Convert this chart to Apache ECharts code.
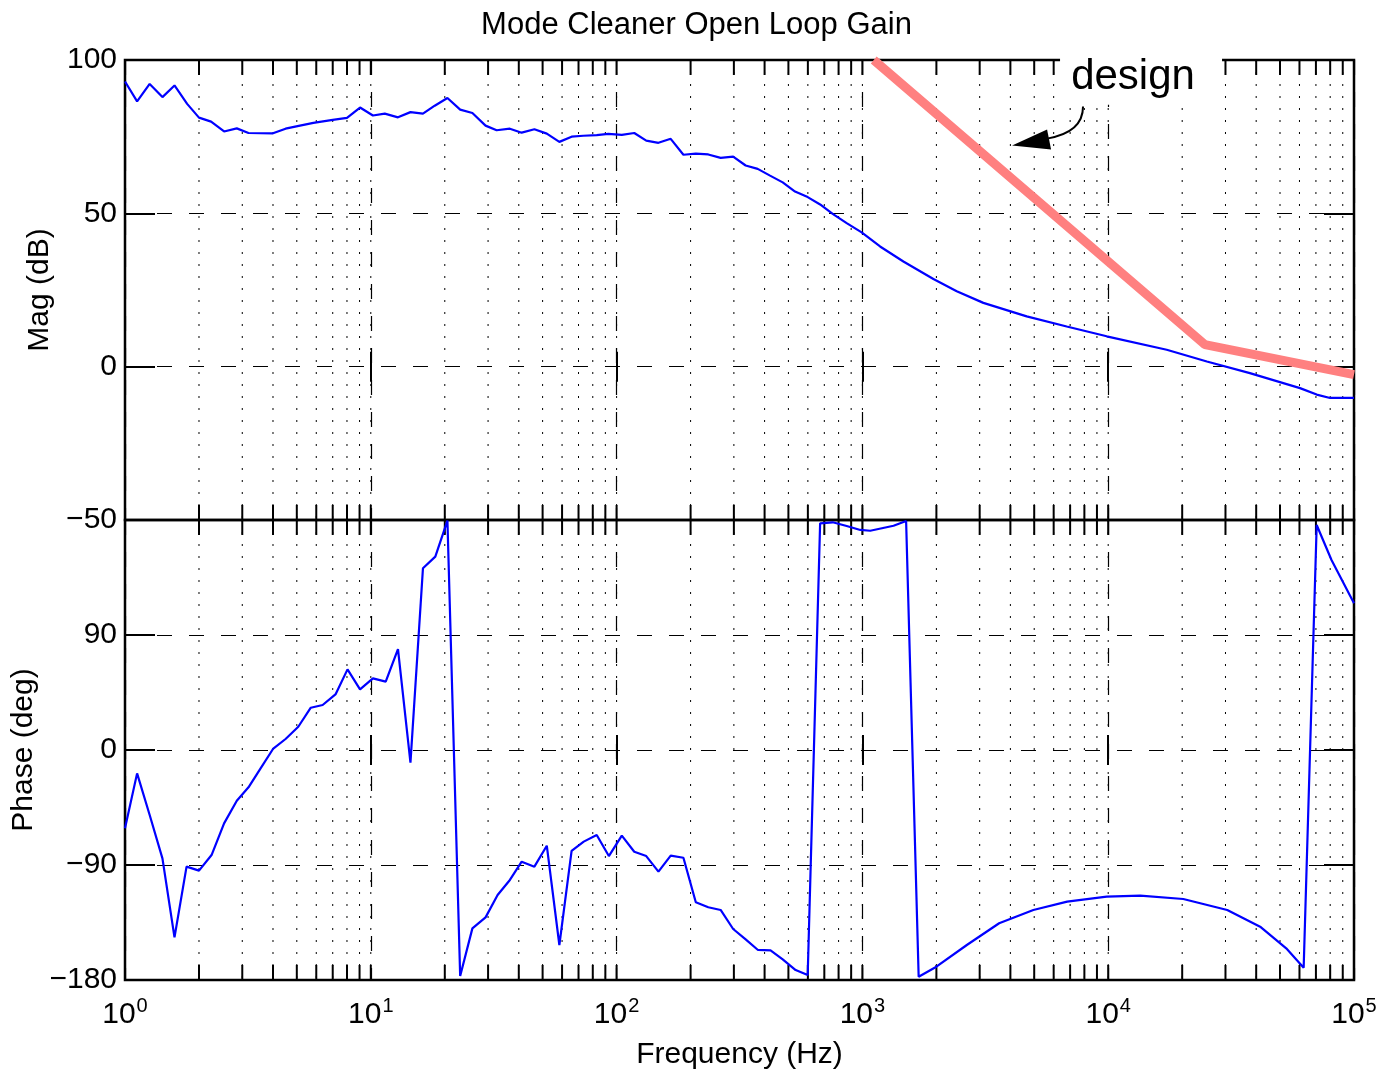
<!DOCTYPE html>
<html>
<head>
<meta charset="utf-8">
<script src="https://cdn.jsdelivr.net/npm/echarts@6/dist/echarts.min.js"></script>
<style>
  html, body { margin: 0; padding: 0; background: #fff; }
  #chart { width: 1393px; height: 1072px; }
</style>
</head>
<body>
<div id="chart"></div>
<script>
const magFreq = [1.0, 1.12, 1.26, 1.42, 1.59, 1.79, 2.0, 2.24, 2.53, 2.85, 3.18, 4.0, 4.5, 5.15, 5.84, 7.0, 8.0, 9.04,
  10.2, 11.4, 12.9, 14.5, 16.3, 18.2, 20.5, 23.1, 25.9, 29.3, 32.5, 36.8, 41.1, 46.3, 52, 58.5, 65.6, 73.2, 83, 92.5,
  105, 118, 132, 148, 166, 187, 210, 236, 265, 298, 335, 375, 421, 474, 532, 599, 673, 757, 863, 993,
  1180, 1468, 1945, 2420, 3105, 4660, 6780, 9860, 17300, 25200, 37700, 60300, 70500, 79900, 100000];
const magDb = [93.0, 86.5, 92.2, 87.9, 91.7, 85.7, 81.2, 79.9, 76.7, 77.7, 76.2, 76.1, 77.6, 78.6, 79.5, 80.5, 81.1, 84.5,
  81.9, 82.5, 81.3, 83.0, 82.5, 85.1, 87.6, 83.8, 82.7, 78.6, 77.1, 77.6, 76.3, 77.4, 76.0, 73.3, 75.0, 75.3, 75.5, 75.9,
  75.6, 76.2, 73.7, 73.0, 74.3, 69.1, 69.5, 69.2, 68.1, 68.5, 65.6, 64.5, 62.3, 60.1, 57.1, 55.3, 52.9, 49.8, 46.8, 43.8,
  39.2, 34.3, 28.6, 24.6, 20.8, 16.4, 13.1, 9.9, 5.5, 1.7, -2.1, -7.0, -9.1, -10.2, -10.2];

const phaseFreq = [1.0, 1.12, 1.26, 1.42, 1.59, 1.78, 2.0, 2.25, 2.53, 2.85, 3.18, 3.54, 4.0, 4.5, 5.07, 5.7, 6.37, 7.2,
  8.04, 9.04, 10.2, 11.5, 12.9, 14.5, 16.3, 18.3, 20.5, 23.1, 25.9, 29.3, 32.8, 36.8, 41.1, 46.3, 52, 58.5, 65.6, 73.5,
  83, 93, 105, 118, 132, 148, 166, 187, 210, 236, 265, 298, 335, 376, 423, 474, 535, 599, 673, 757, 863, 981, 1076,
  1339, 1506, 1694, 2000, 2660, 3600, 4960, 6810, 9860, 13500, 20200, 30500, 41500, 53000, 62400, 70500, 81000, 100000];
const phaseDeg = [-61.3, -18.3, -50.9, -84.8, -146.6, -91.3, -94.4, -82.2, -57.4, -39.7, -29.2, -15.1, 0.8, 8.6, 18.2,
  33.1, 35.2, 43.8, 63.1, 47.5, 56.1, 53.5, 79.0, -9.9, 142.2, 151.3, 179.5, -176.9, -139.6, -131, -113.5, -101.7, -87.4,
  -91.3, -74.9, -152.6, -79.0, -71.7, -66.5, -83.0, -67.0, -79.6, -83.0, -95.2, -82.7, -84.3, -119.2, -123.1, -125.2,
  -140.1, -148.2, -156.5, -156.8, -163.8, -172.2, -176.1, 177.4, 178.2, 175.3, 172.2, 171.6, 175.5, 179.2, -177.4,
  -169.6, -152.6, -135.6, -125.2, -118.7, -114.8, -114.0, -116.6, -125.2, -138.3, -155.2, -170.4, 176.1, 148.7, 114.8];

// design curve
const designFreq = [1112, 24750, 100000];
const designDb = [100, 7.2, -2.6];

const magTicks = [-50, 0, 50, 100];
const phaseTicks = [-180, -90, 0, 90, 180];
const freqMin = 1, freqMax = 100000;

// annotation anchors in data units
const noteText = 'design';
const notePos = [12620, 94.2];
const arrowTail = [7900, 84.8];
const arrowTip = [4064, 72.1];

const FONT = '"Liberation Sans", Arial, Helvetica, sans-serif';
const MINUS = '\u2212';
const FS = 30;

// minor grid positions 1..9 per decade
const minorFreq = [];
for (let d = 1; d < freqMax; d *= 10) {
  for (let m = 1; m <= 9; m++) {
    if (d * m > freqMin) minorFreq.push([d * m]);
  }
}

function zip(xs, ys) {
  return xs.map((x, i) => [x, ys[i]]);
}

function fmtNum(v) {
  return v < 0 ? MINUS + Math.abs(v) : String(v);
}

function minorGrid(yMin, yMax) {
  return function (params, api) {
    const f = api.value(0);
    const top = api.coord([f, yMax]);
    const bot = api.coord([f, yMin]);
    return {
      type: 'group',
      children: [
        { type: 'line', shape: { x1: top[0], y1: top[1], x2: bot[0], y2: bot[1] },
          style: { stroke: '#000', lineWidth: 1, lineDash: [2, 10] } },
        { type: 'line', shape: { x1: top[0], y1: top[1], x2: top[0], y2: top[1] + 15 },
          style: { stroke: '#000', lineWidth: 2 } },
        { type: 'line', shape: { x1: bot[0], y1: bot[1], x2: bot[0], y2: bot[1] - 15 },
          style: { stroke: '#000', lineWidth: 2 } }
      ]
    };
  };
}

const tickStyle = { color: '#000', width: 2 };
const dashStyle = { color: '#000', width: 1.2, type: [15, 17] };

function xAxisOf(grid, pos, main, withLabels) {
  return {
    type: 'log', logBase: 10, gridIndex: grid, position: pos, min: freqMin, max: freqMax,
    axisLine: { show: false },
    axisTick: { show: true, inside: true, length: 15, lineStyle: tickStyle },
    splitLine: { show: main, lineStyle: dashStyle },
    minorTick: { show: false },
    axisLabel: withLabels ? {
      show: true, margin: 16, color: '#000', fontFamily: FONT, fontSize: FS,
      showMinLabel: true, showMaxLabel: true,
      formatter: v => '10{s|' + Math.round(Math.log10(v)) + '}',
      rich: { s: { fontSize: 20, fontFamily: FONT, color: '#000', verticalAlign: 'bottom', padding: [0, 0, 17, 1] } }
    } : { show: false },
    name: withLabels ? 'Frequency (Hz)' : '',
    nameLocation: 'middle', nameGap: 60,
    nameTextStyle: { color: '#000', fontFamily: FONT, fontSize: FS }
  };
}

function yAxisOf(grid, pos, min, max, interval, main, name, nameGap, hideMax) {
  return {
    type: 'value', gridIndex: grid, position: pos, min: min, max: max, interval: interval,
    axisLine: { show: false },
    axisTick: { show: true, inside: true, length: 30, lineStyle: tickStyle },
    splitLine: { show: main, lineStyle: dashStyle },
    axisLabel: main ? {
      show: true, margin: 8, color: '#000', fontFamily: FONT, fontSize: FS,
      showMinLabel: true, showMaxLabel: true,
      formatter: v => (hideMax && v === max) ? '' : fmtNum(v)
    } : { show: false },
    name: main ? name : '',
    nameLocation: 'middle', nameGap: nameGap,
    nameTextStyle: { color: '#000', fontFamily: FONT, fontSize: FS }
  };
}

const chart = echarts.init(document.getElementById('chart'), null, { renderer: 'canvas' });

const gridBox = { show: true, borderColor: '#000', borderWidth: 2.5, backgroundColor: 'transparent' };

chart.setOption({
  backgroundColor: '#fff',
  animation: false,
  title: {
    text: 'Mode Cleaner Open Loop Gain', left: 'center', top: 5,
    textStyle: { color: '#000', fontFamily: FONT, fontSize: 31, fontWeight: 'normal' }
  },
  grid: [
    Object.assign({ left: 125, right: 39, top: 60, height: 460 }, gridBox),
    Object.assign({ left: 125, right: 39, top: 520, height: 460 }, gridBox)
  ],
  xAxis: [
    xAxisOf(0, 'bottom', true, false),
    xAxisOf(0, 'top', false, false),
    xAxisOf(1, 'bottom', true, true),
    xAxisOf(1, 'top', false, false)
  ],
  yAxis: [
    yAxisOf(0, 'left', magTicks[0], magTicks[magTicks.length - 1], 50, true, 'Mag (dB)', 66, false),
    yAxisOf(0, 'right', magTicks[0], magTicks[magTicks.length - 1], 50, false),
    yAxisOf(1, 'left', phaseTicks[0], phaseTicks[phaseTicks.length - 1], 90, true, 'Phase (deg)', 86, true),
    yAxisOf(1, 'right', phaseTicks[0], phaseTicks[phaseTicks.length - 1], 90, false)
  ],
  series: [
    {
      type: 'custom', xAxisIndex: 0, yAxisIndex: 0, silent: true, z: 1,
      renderItem: minorGrid(magTicks[0], magTicks[magTicks.length - 1]),
      data: minorFreq
    },
    {
      type: 'custom', xAxisIndex: 2, yAxisIndex: 2, silent: true, z: 1,
      renderItem: minorGrid(phaseTicks[0], phaseTicks[phaseTicks.length - 1]),
      data: minorFreq
    },
    {
      name: 'design', type: 'line', xAxisIndex: 0, yAxisIndex: 0, z: 3,
      data: zip(designFreq, designDb), showSymbol: false, clip: true,
      lineStyle: { color: '#ff8080', width: 9, cap: 'butt' }
    },
    {
      name: 'mag', type: 'line', xAxisIndex: 0, yAxisIndex: 0, z: 4,
      data: zip(magFreq, magDb), showSymbol: false, clip: true,
      lineStyle: { color: '#0000ff', width: 2.2 }
    },
    {
      name: 'phase', type: 'line', xAxisIndex: 2, yAxisIndex: 2, z: 4,
      data: zip(phaseFreq, phaseDeg), showSymbol: false, clip: true,
      lineStyle: { color: '#0000ff', width: 2.2 }
    }
  ]
});

// annotation: label with white box and curved arrow
const toPx = p => chart.convertToPixel({ xAxisIndex: 0, yAxisIndex: 0 }, p);
const c = toPx(notePos);
const tail = toPx(arrowTail);
const tip = toPx(arrowTip);
const bend = [tail[0] - 36, tail[1] + 32];

chart.setOption({
  graphic: [
    {
      type: 'rect', z: 100,
      shape: { x: c[0] - 73, y: c[1] - 33, width: 162, height: 60 },
      style: { fill: '#fff' }
    },
    {
      type: 'text', z: 101, x: c[0], y: c[1],
      style: { text: noteText, fill: '#000', font: '42px ' + FONT, align: 'center', verticalAlign: 'middle' }
    },
    {
      type: 'bezierCurve', z: 101,
      shape: { x1: tail[0], y1: tail[1], x2: bend[0], y2: bend[1], cpx1: tail[0], cpy1: tail[1] + 26 },
      style: { stroke: '#000', lineWidth: 2, fill: null }
    },
    {
      type: 'polygon', z: 101,
      shape: { points: [[tip[0], tip[1]], [tip[0] + 35, tip[1] - 16], [tip[0] + 39, tip[1] + 4]] },
      style: { fill: '#000' }
    }
  ]
});
</script>
</body>
</html>
